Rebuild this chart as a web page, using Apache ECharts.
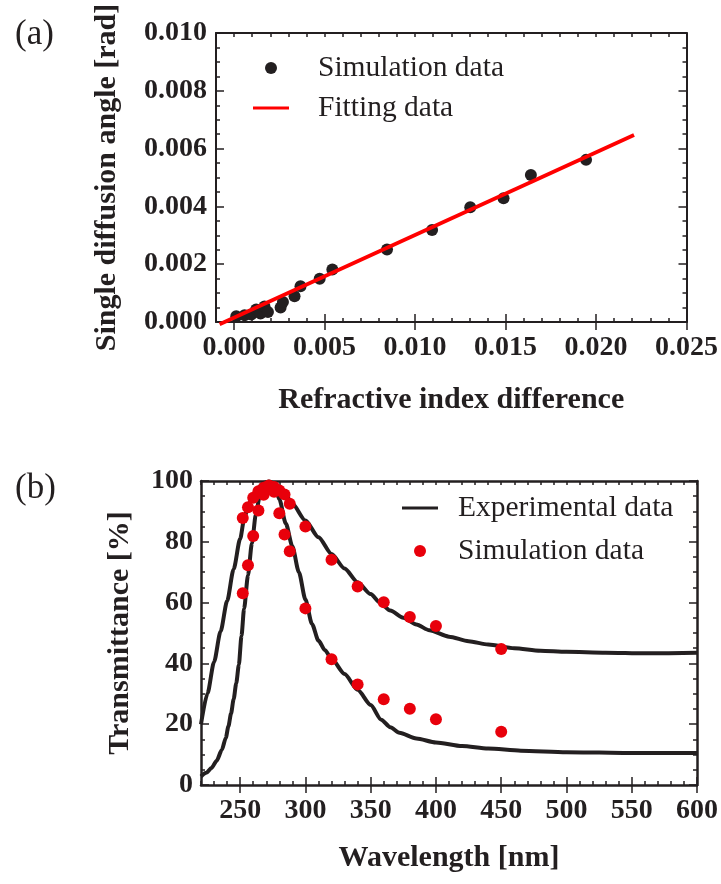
<!DOCTYPE html>
<html>
<head>
<meta charset="utf-8">
<script src="https://cdn.jsdelivr.net/npm/echarts@6/dist/echarts.min.js"></script>
<style>
html,body{margin:0;padding:0;background:#fff;}
#c{width:721px;height:884px;}
</style>
</head>
<body>
<div id="c"></div>
<script>
// ---------- Panel (a) data ----------
const simX = [0.00012, 0.00058, 0.00095, 0.00122, 0.00146, 0.00168, 0.00187, 0.00257, 0.0027, 0.00334, 0.00367, 0.00473, 0.00543, 0.00845, 0.01094, 0.01305, 0.01489, 0.0164, 0.01945];
const simY = [0.0002, 0.00023, 0.00026, 0.00043, 0.00029, 0.00054, 0.00035, 0.0005, 0.00069, 0.00089, 0.00124, 0.0015, 0.00182, 0.00251, 0.00318, 0.00397, 0.00428, 0.00509, 0.00561];
const fitX = [-0.0008, 0.0221];
const fitY = [-0.00008, 0.00647];
const aXTicks = [0, 0.005, 0.010, 0.015, 0.020, 0.025];

// ---------- Panel (b) data ----------
const wlSim = [252, 256, 260, 264, 268, 272, 276, 280, 284, 288, 300, 320, 340, 360, 380, 400, 450];
const simUpper = [87.8, 91.4, 94.5, 96.6, 97.8, 98.3, 98.0, 96.9, 95.6, 92.5, 85.0, 74.1, 65.3, 60.1, 55.3, 52.3, 44.7];
const simLower = [63.1, 72.3, 81.9, 90.3, 95.5, 98.5, 96.5, 89.4, 82.4, 76.9, 58.1, 41.4, 33.1, 28.2, 25.1, 21.6, 17.5];

const wlExpUpper = [220, 225, 230, 235, 240, 245, 250, 253, 256, 260, 264, 268, 272, 276, 280, 285, 290, 300, 310, 320, 330, 340, 350, 357, 365, 375, 385, 395, 410, 425, 440, 460, 480, 500, 530, 560, 600];
const expUpper = [20, 30.2, 40.5, 50.5, 60.5, 71, 81, 87.3, 91.8, 95.3, 97.9, 99.4, 99.8, 99.2, 97.6, 95.3, 92.5, 87, 81.5, 76, 71.2, 66.7, 62.8, 60, 57.4, 55, 52.8, 50.9, 48.8, 47.3, 46.2, 45, 44.2, 43.8, 43.5, 43.3, 43.5];

const wlExpLower = [220, 224, 228, 232, 236, 239, 241, 243, 245, 247, 249, 251, 253, 256, 259, 262, 265, 268, 271, 274, 277, 280, 285, 290, 295, 300, 305, 310, 315, 320, 330, 340, 350, 358, 365, 372, 385, 400, 420, 440, 465, 500, 550, 600];
const expLower = [2.8, 4, 5.6, 8, 11.6, 15.5, 19.3, 23.5, 28.2, 33.5, 39.5, 49, 58, 69, 79.5, 89, 95, 98.3, 99.6, 99.4, 97.5, 94, 86, 78.5, 70, 61, 53, 47.5, 44.3, 41.5, 36.5, 31.3, 26.3, 21.5, 19, 17.2, 15.3, 14, 12.8, 12, 11.3, 10.8, 10.5, 10.5];
const bXTicks = [250, 300, 350, 400, 450, 500, 550, 600];

// ---------- helpers ----------
const zip = (xs, ys) => xs.map((x, i) => [x, ys[i]]);
const FONT = 'Liberation Serif';
const INK = '#231f20';
const RED = '#e8000b';
const lbl = {fontFamily: FONT, fontWeight: 'bold', fontSize: 28, color: INK};
const ttl = {fontFamily: FONT, fontWeight: 'bold', fontSize: 30, color: INK};
const LINE_ICON = 'path://M0,0H36V3H0Z';

function frameX(grid, pos, min, max, interval, w, opts) {
  return Object.assign({
    type: 'value', gridIndex: grid, position: pos, min: min, max: max, interval: interval,
    axisLine: {show: true, onZero: false, lineStyle: {color: INK, width: w}},
    axisTick: {show: true, inside: true, length: 4, lineStyle: {color: INK, width: 1.5}},
    axisLabel: {show: false},
    splitLine: {show: false}
  }, opts || {});
}
function majorX(grid, pos, min, max, interval, ticks) {
  return {
    type: 'value', gridIndex: grid, position: pos, min: min, max: max, interval: interval,
    axisLine: {show: false},
    axisTick: {show: true, inside: true, length: 8, customValues: ticks, lineStyle: {color: INK, width: 1.5}},
    axisLabel: {show: false},
    splitLine: {show: false}
  };
}
function frameY(grid, pos, min, max, interval, w, opts) {
  return Object.assign({
    type: 'value', gridIndex: grid, position: pos, min: min, max: max, interval: interval,
    axisLine: {show: true, onZero: false, lineStyle: {color: INK, width: w}},
    axisTick: {show: true, inside: true, length: 8, lineStyle: {color: INK, width: 1.5}},
    minorTick: {show: true, splitNumber: 4, length: 4, lineStyle: {color: INK, width: 1.5}},
    axisLabel: {show: false},
    splitLine: {show: false},
    minorSplitLine: {show: false}
  }, opts || {});
}
const isMult = (v, step) => Math.abs(v / step - Math.round(v / step)) < 1e-6;

const chart = echarts.init(document.getElementById('c'), null, {renderer: 'canvas'});
chart.setOption({
  backgroundColor: '#fff',
  animation: false,
  title: [
    {text: '(a)', left: 10, top: 12, textStyle: {fontFamily: FONT, fontWeight: 'normal', fontSize: 35, color: INK}},
    {text: '(b)', left: 10, top: 466, textStyle: {fontFamily: FONT, fontWeight: 'normal', fontSize: 35, color: INK}}
  ],
  grid: [
    {left: 216, top: 33, width: 472, height: 289},
    {left: 201, top: 481, width: 496, height: 304}
  ],
  legend: [
    {
      orient: 'vertical', left: 253, top: 53, padding: 0, itemGap: 10,
      itemWidth: 36, itemHeight: 12,
      data: [{name: 'Simulation data', icon: 'circle'}, {name: 'Fitting data', icon: LINE_ICON}],
      textStyle: {fontFamily: FONT, fontSize: 29.5, color: INK, padding: [0, 0, 0, 24]}
    },
    {
      orient: 'vertical', left: 402, top: 493, padding: 0, itemGap: 13,
      itemWidth: 36, itemHeight: 12,
      data: [{name: 'Experimental data', icon: LINE_ICON}, {name: 'Simulation data (b)', icon: 'circle'}],
      formatter: n => n.replace(' (b)', ''),
      textStyle: {fontFamily: FONT, fontSize: 29.5, color: INK, padding: [0, 0, 0, 15]}
    }
  ],
  xAxis: [
    frameX(0, 'bottom', -0.001, 0.025, 0.001, 2, {
      axisLabel: {show: true, margin: 12, ...lbl,
        formatter: v => isMult(v, 0.005) ? Math.abs(v).toFixed(3) : ''},
      name: 'Refractive index difference', nameLocation: 'middle', nameGap: 63,
      nameTextStyle: ttl
    }),
    majorX(0, 'bottom', -0.001, 0.025, 0.001, aXTicks),
    frameX(0, 'top', -0.001, 0.025, 0.001, 2),
    majorX(0, 'top', -0.001, 0.025, 0.001, aXTicks),
    frameX(1, 'bottom', 220, 600, 10, 2.5, {
      axisLabel: {show: true, margin: 12, ...lbl,
        formatter: v => isMult(v, 50) ? String(Math.round(v)) : ''},
      name: 'Wavelength [nm]', nameLocation: 'middle', nameGap: 58,
      nameTextStyle: ttl
    }),
    majorX(1, 'bottom', 220, 600, 10, bXTicks),
    frameX(1, 'top', 220, 600, 10, 2.5),
    majorX(1, 'top', 220, 600, 10, bXTicks)
  ],
  yAxis: [
    frameY(0, 'left', 0, 0.010, 0.002, 2, {
      axisLabel: {show: true, margin: 9, ...lbl, formatter: v => v.toFixed(3)},
      name: 'Single diffusion angle [rad]', nameLocation: 'middle', nameGap: 94,
      nameTextStyle: ttl
    }),
    frameY(0, 'right', 0, 0.010, 0.002, 2),
    frameY(1, 'left', 0, 100, 20, 2.5, {
      axisLabel: {show: true, margin: 8, ...lbl, formatter: v => String(Math.round(v))},
      name: 'Transmittance [%]', nameLocation: 'middle', nameGap: 66,
      nameTextStyle: ttl
    }),
    frameY(1, 'right', 0, 100, 20, 2.5)
  ],
  series: [
    {
      name: 'Simulation data', type: 'scatter', xAxisIndex: 0, yAxisIndex: 0,
      symbol: 'circle', symbolSize: 12, itemStyle: {color: INK, opacity: 1},
      data: zip(simX, simY), z: 3
    },
    {
      name: 'Fitting data', type: 'line', xAxisIndex: 0, yAxisIndex: 0,
      symbol: 'none', showSymbol: false, clip: false,
      lineStyle: {color: '#ff0000', width: 3.8}, itemStyle: {color: '#ff0000'},
      data: zip(fitX, fitY), z: 4
    },
    {
      name: 'Experimental data', type: 'line', xAxisIndex: 4, yAxisIndex: 2,
      symbol: 'none', showSymbol: false, smooth: 0.25, smoothMonotone: 'x',
      lineStyle: {color: INK, width: 4}, itemStyle: {color: INK},
      data: zip(wlExpUpper, expUpper), z: 2
    },
    {
      name: 'Experimental data', type: 'line', xAxisIndex: 4, yAxisIndex: 2,
      symbol: 'none', showSymbol: false, smooth: 0.25, smoothMonotone: 'x',
      lineStyle: {color: INK, width: 4}, itemStyle: {color: INK},
      data: zip(wlExpLower, expLower), z: 2
    },
    {
      name: 'Simulation data (b)', type: 'scatter', xAxisIndex: 4, yAxisIndex: 2,
      symbol: 'circle', symbolSize: 12, itemStyle: {color: RED, opacity: 1},
      data: zip(wlSim, simUpper), z: 3
    },
    {
      name: 'Simulation data (b)', type: 'scatter', xAxisIndex: 4, yAxisIndex: 2,
      symbol: 'circle', symbolSize: 12, itemStyle: {color: RED, opacity: 1},
      data: zip(wlSim, simLower), z: 3
    }
  ]
});
</script>
</body>
</html>
